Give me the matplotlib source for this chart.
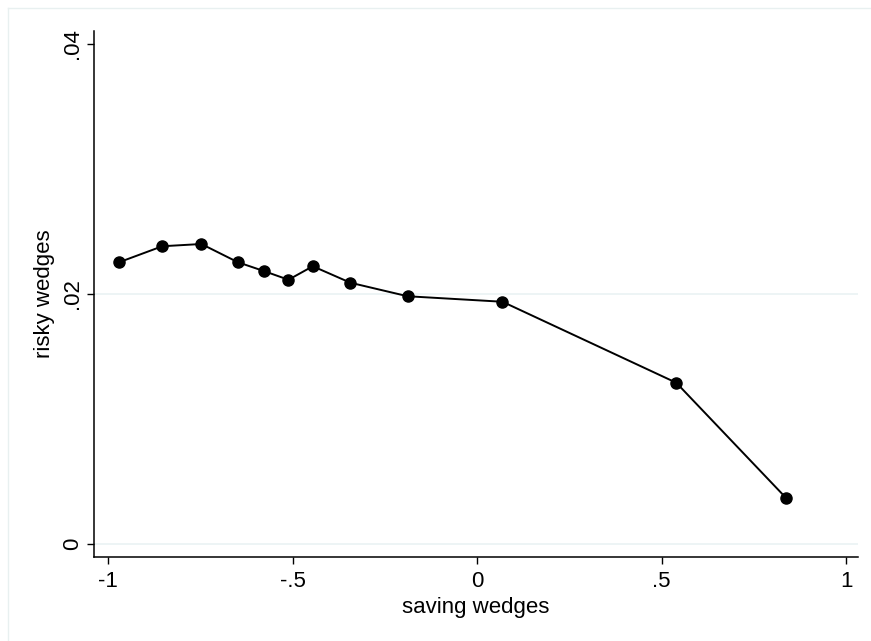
import matplotlib.pyplot as plt
from matplotlib.lines import Line2D

plt.rcParams['font.family'] = ['Liberation Sans', 'DejaVu Sans']

saving = [-0.970, -0.853, -0.747, -0.648, -0.578, -0.511, -0.445, -0.343, -0.188, 0.069, 0.540, 0.837]
risky = [0.02254, 0.02382, 0.02400, 0.02254, 0.02184, 0.02114, 0.02222, 0.02090, 0.01982, 0.01938, 0.01290, 0.00370]

xticks = [-1, -0.5, 0, 0.5, 1]
xlabels = ['-1', '-.5', '0', '.5', '1']
yticks = [0, 0.02, 0.04]
ylabels = ['0', '.02', '.04']
grid_at = [0, 0.02]

fig = plt.figure(figsize=(8.71, 6.41), dpi=100)
ax = fig.add_axes([94 / 871, 1 - 557 / 641, (858 - 94) / 871, (557 - 31) / 641])

# faint outer frame like the Stata graph region
fig.add_artist(Line2D([8 / 871, 8 / 871], [0, 1 - 8 / 641], transform=fig.transFigure, color='#e8f0f0', lw=1))
fig.add_artist(Line2D([8 / 871, 1], [1 - 8 / 641, 1 - 8 / 641], transform=fig.transFigure, color='#e8f0f0', lw=1))

for g in grid_at:
    ax.axhline(g, color='#eaf2f3', lw=1.2, zorder=0)
ax.plot(saving, risky, color='black', lw=1.4, marker='o', markersize=8, zorder=3)

ax.set_xlim(-1.038, 1.0325)
ax.set_ylim(-0.00104, 0.04104)
ax.set_xticks(xticks)
ax.set_xticklabels(xlabels)
ax.set_yticks(yticks)
ax.set_yticklabels(ylabels, rotation=90, va='center')
for s in ['top', 'right']:
    ax.spines[s].set_visible(False)
for s in ['left', 'bottom']:
    ax.spines[s].set_linewidth(1.1)
ax.tick_params(labelsize=16, length=5, width=1)
ax.tick_params(axis='x', pad=5)
ax.tick_params(axis='y', pad=3)
ax.set_xlabel('saving wedges', fontsize=16, labelpad=4)
ax.set_ylabel('risky wedges', fontsize=16, labelpad=5)

fig.savefig('out.png', dpi=100)
